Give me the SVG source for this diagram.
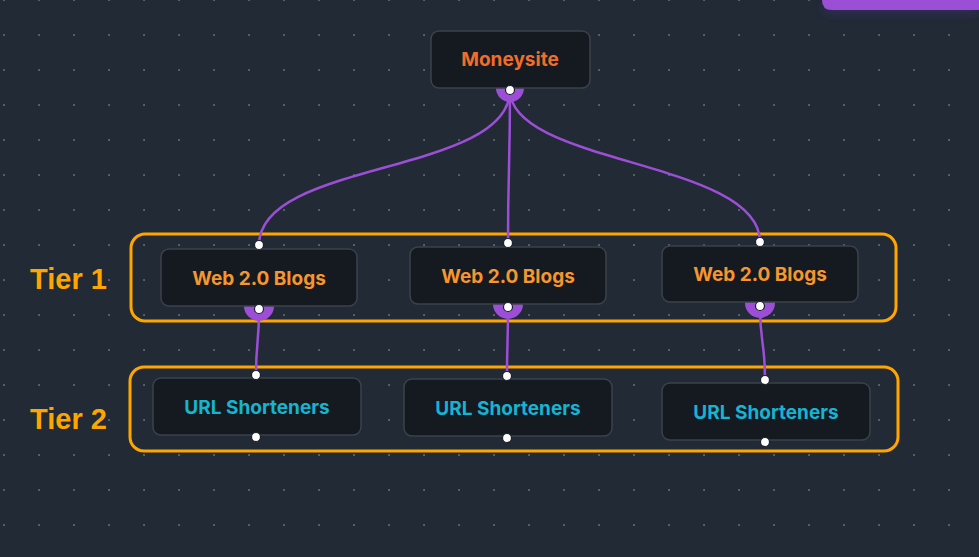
<svg xmlns="http://www.w3.org/2000/svg" width="979" height="557" viewBox="0 0 979 557">
  <defs>
    <pattern id="dots" x="3" y="-1" width="35" height="35" patternUnits="userSpaceOnUse">
      <rect x="0.2" y="0.2" width="1.7" height="1.7" fill="#68717e"/>
    </pattern>
    <filter id="barShadow" x="-20%" y="-50%" width="140%" height="300%">
      <feDropShadow dx="0" dy="4" stdDeviation="5" flood-color="#3a2a6a" flood-opacity="0.6"/>
    </filter>
  </defs>
  <style>
    .node rect { fill: #151a21; stroke: #3b424b; stroke-width: 1.5; }
    .tier { fill: none; stroke: #ffa500; stroke-width: 3; }
    .edge { fill: none; stroke: #9c4fd6; stroke-width: 2.5; }
    .knob { fill: #9c4fd6; }
    .handle { fill: #ffffff; stroke: #1b2029; stroke-width: 1.2; }
    .label { font-family: Inter, "Noto Sans", sans-serif; font-weight: 700; font-size: 19px; text-anchor: middle; dominant-baseline: central; }
    .money { fill: #f26d2b; }
    .blog { fill: #f5962e; }
    .url { fill: #16b4d1; }
    .tierlabel { font-family: "Liberation Sans", Arial, sans-serif; font-weight: 700; font-size: 29px; fill: #ffa500; }
  </style>

  <!-- canvas -->
  <rect width="979" height="557" fill="#212a35"/>
  <rect width="979" height="557" fill="url(#dots)"/>

  <!-- top-right toolbar strip -->
  <path d="M822,0 H979 V10 H832 Q822,10 822,0 Z" fill="#9b4fd6" filter="url(#barShadow)"/>

  <!-- tier frames -->
  <g id="tier1-group">
    <rect class="tier" x="131" y="234" width="765" height="87" rx="14"/>
    <text class="tierlabel" x="30" y="289">Tier 1</text>
  </g>
  <g id="tier2-group">
    <rect class="tier" x="130" y="367" width="768" height="84" rx="14"/>
    <text class="tierlabel" x="30" y="429">Tier 2</text>
  </g>

  <!-- connectors -->
  <g id="edges">
    <path class="edge" d="M510,90 C510,175 259,160 259,245"/>
    <path class="edge" d="M510,90 C510,165 508,170 508,243"/>
    <path class="edge" d="M510,90 C510,165 760,160 760,242"/>
    <path class="edge" d="M259,309 C259,345 256,340 256,375"/>
    <path class="edge" d="M508,307 C508,345 507,340 507,376"/>
    <path class="edge" d="M760,306 C760,345 765,340 765,380"/>
  </g>

  <!-- source knobs under the nodes -->
  <circle class="knob" cx="510" cy="88" r="14"/>
  <circle class="knob" cx="259" cy="306" r="15"/>
  <circle class="knob" cx="508" cy="304" r="15"/>
  <circle class="knob" cx="760" cy="303" r="15"/>

  <g id="moneysite" class="node">
    <rect x="431" y="31" width="159" height="57" rx="8"/>
    <text class="label money" x="510" y="59">Moneysite</text>
    <circle class="handle" cx="510" cy="90" r="4.5"/>
  </g>

  <g id="web20-1" class="node">
    <rect x="161" y="249" width="196" height="57" rx="8"/>
    <text class="label blog" x="259" y="278">Web 2.0 Blogs</text>
    <circle class="handle" cx="259" cy="245" r="4.5"/>
    <circle class="handle" cx="259" cy="309" r="4.5"/>
  </g>
  <g id="web20-2" class="node">
    <rect x="410" y="247" width="196" height="57" rx="8"/>
    <text class="label blog" x="508" y="276">Web 2.0 Blogs</text>
    <circle class="handle" cx="508" cy="243" r="4.5"/>
    <circle class="handle" cx="508" cy="307" r="4.5"/>
  </g>
  <g id="web20-3" class="node">
    <rect x="662" y="246" width="196" height="56" rx="8"/>
    <text class="label blog" x="760" y="274">Web 2.0 Blogs</text>
    <circle class="handle" cx="760" cy="242" r="4.5"/>
    <circle class="handle" cx="760" cy="306" r="4.5"/>
  </g>

  <g id="url-1" class="node">
    <rect x="153" y="378" width="208" height="57" rx="8"/>
    <text class="label url" x="257" y="407">URL Shorteners</text>
    <circle class="handle" cx="256" cy="375" r="4.5"/>
    <circle class="handle" cx="256" cy="437" r="4.5"/>
  </g>
  <g id="url-2" class="node">
    <rect x="404" y="379" width="208" height="57" rx="8"/>
    <text class="label url" x="508" y="408">URL Shorteners</text>
    <circle class="handle" cx="507" cy="376" r="4.5"/>
    <circle class="handle" cx="507" cy="438" r="4.5"/>
  </g>
  <g id="url-3" class="node">
    <rect x="662" y="383" width="208" height="57" rx="8"/>
    <text class="label url" x="766" y="412">URL Shorteners</text>
    <circle class="handle" cx="765" cy="380" r="4.5"/>
    <circle class="handle" cx="765" cy="442" r="4.5"/>
  </g>
</svg>
